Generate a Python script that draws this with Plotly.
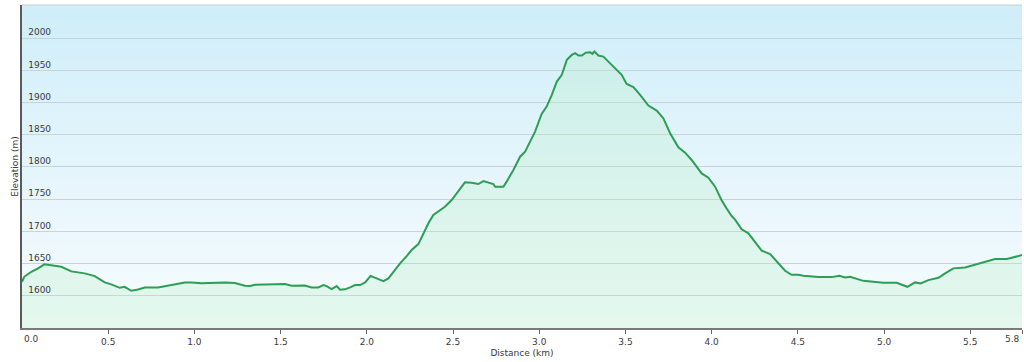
import base64
import struct
import zlib

import plotly.graph_objects as go

# ---- data ----
distance_km = [
    0.0, 0.013, 0.054, 0.093, 0.13, 0.17, 0.228, 0.286, 0.364, 0.422,
    0.48, 0.518, 0.567, 0.595, 0.634, 0.673, 0.712, 0.789, 0.866, 0.945,
    0.984, 1.042, 1.177, 1.235, 1.293, 1.322, 1.352, 1.448, 1.526, 1.564,
    1.622, 1.64, 1.68, 1.719, 1.748, 1.767, 1.796, 1.825, 1.845, 1.873,
    1.903, 1.932, 1.961, 1.99, 2.022, 2.057, 2.096, 2.125, 2.154, 2.193,
    2.231, 2.26, 2.299, 2.328, 2.357, 2.386, 2.423, 2.453, 2.492, 2.53,
    2.569, 2.608, 2.647, 2.676, 2.705, 2.734, 2.744, 2.792, 2.811, 2.85,
    2.889, 2.918, 2.947, 2.976, 3.014, 3.043, 3.073, 3.102, 3.131, 3.16,
    3.189, 3.208, 3.228, 3.247, 3.27, 3.295, 3.308, 3.32, 3.343, 3.372,
    3.401, 3.44, 3.478, 3.507, 3.546, 3.585, 3.633, 3.681, 3.72, 3.759,
    3.807, 3.846, 3.884, 3.942, 3.981, 4.02, 4.057, 4.086, 4.116, 4.135,
    4.174, 4.213, 4.251, 4.29, 4.339, 4.377, 4.426, 4.464, 4.503, 4.532,
    4.619, 4.697, 4.741, 4.774, 4.803, 4.88, 4.996, 5.073, 5.135, 5.18,
    5.212, 5.257, 5.315, 5.354, 5.402, 5.47, 5.528, 5.596, 5.644, 5.712,
    5.8,
]
elevation_m = [
    1621.8, 1629.5, 1637.3, 1642.5, 1648.8, 1647.7, 1645.1, 1637.9, 1634.8, 1630.6,
    1620.8, 1617.7, 1612.4, 1614.0, 1607.8, 1609.9, 1613.0, 1613.0, 1616.6, 1620.8,
    1620.8, 1619.3, 1620.8, 1619.7, 1615.6, 1615.1, 1617.1, 1618.2, 1618.2, 1615.6,
    1615.1, 1616.0, 1613.0, 1613.0, 1616.6, 1615.0, 1610.4, 1615.1, 1609.4, 1610.0,
    1613.0, 1616.6, 1616.6, 1620.8, 1631.0, 1627.0, 1622.8, 1627.0, 1637.3, 1650.3,
    1661.7, 1671.0, 1680.3, 1697.0, 1712.5, 1725.4, 1732.1, 1738.3, 1748.7, 1763.2,
    1776.2, 1775.6, 1773.6, 1778.2, 1776.2, 1773.6, 1769.4, 1769.4, 1777.2, 1795.3,
    1816.0, 1823.8, 1839.3, 1854.9, 1882.4, 1893.7, 1911.9, 1932.6, 1943.0, 1966.3,
    1974.0, 1976.7, 1973.0, 1973.0, 1977.6, 1978.2, 1975.6, 1979.2, 1973.0, 1971.4,
    1963.6, 1953.4, 1943.0, 1929.0, 1923.9, 1911.9, 1895.3, 1887.5, 1875.7, 1852.4,
    1830.6, 1822.2, 1810.9, 1790.0, 1783.4, 1769.4, 1748.7, 1735.9, 1723.8, 1718.7,
    1703.2, 1697.0, 1684.0, 1670.1, 1664.9, 1653.0, 1638.9, 1632.6, 1632.6, 1631.0,
    1629.0, 1629.0, 1631.0, 1628.6, 1629.5, 1623.2, 1620.2, 1620.2, 1614.0, 1620.8,
    1619.3, 1624.4, 1628.0, 1634.8, 1642.6, 1644.1, 1648.8, 1653.9, 1657.0, 1657.0,
    1663.2,
]
x_tick_vals = [0.0, 0.5, 1.0, 1.5, 2.0, 2.5, 3.0, 3.5, 4.0, 4.5, 5.0, 5.5, 5.8]
x_tick_text = ["0.0", "0.5", "1.0", "1.5", "2.0", "2.5", "3.0", "3.5", "4.0",
               "4.5", "5.0", "5.5", "5.8"]
y_tick_vals = [1600, 1650, 1700, 1750, 1800, 1850, 1900, 1950, 2000]
y_tick_text = ["1600", "1650", "1700", "1750", "1800", "1850", "1900", "1950", "2000"]


# ---- background gradient image (style only) ----
def gradient_png(stops, h=128):
    rows = b""
    for i in range(h):
        t = i / (h - 1)
        for j in range(len(stops) - 1):
            p0, c0 = stops[j]
            p1, c1 = stops[j + 1]
            if p0 <= t <= p1:
                f = (t - p0) / (p1 - p0) if p1 > p0 else 0
                c = [round(c0[k] + (c1[k] - c0[k]) * f) for k in range(3)]
                break
        rows += b"\x00" + bytes(c)

    def chunk(tag, data):
        return (struct.pack(">I", len(data)) + tag + data
                + struct.pack(">I", zlib.crc32(tag + data) & 0xffffffff))

    png = b"\x89PNG\r\n\x1a\n"
    png += chunk(b"IHDR", struct.pack(">IIBBBBB", 1, h, 8, 2, 0, 0, 0))
    png += chunk(b"IDAT", zlib.compress(rows))
    png += chunk(b"IEND", b"")
    return "data:image/png;base64," + base64.b64encode(png).decode()


bg_src = gradient_png([(0.0, (207, 238, 249)), (0.5, (229, 245, 252)),
                       (1.0, (247, 252, 254))])

FONT = "DejaVu Sans, Verdana, sans-serif"
TXT = "#3a3a3a"

fig = go.Figure()
fig.add_trace(go.Scatter(
    x=distance_km, y=elevation_m, mode="lines",
    line=dict(color="#2e9d55", width=2),
    fill="tozeroy", fillcolor="rgba(185,238,200,0.30)",
    hoverinfo="skip", showlegend=False,
))

annotations = []
# end tick labels aligned inward like the reference
for idx, anchor in ((0, "left"), (len(x_tick_vals) - 1, "right")):
    annotations.append(dict(
        x=x_tick_vals[idx], y=0, xref="x", yref="paper", text=x_tick_text[idx],
        showarrow=False, xanchor=anchor, yanchor="top", yshift=-4,
        font=dict(family=FONT, size=9, color=TXT),
    ))
mid_text = [""] + x_tick_text[1:-1] + [""]

fig.update_layout(
    width=1024, height=362,
    margin=dict(l=22, r=2, t=5, b=34),
    paper_bgcolor="white", plot_bgcolor="#f3fafd",
    font=dict(family=FONT, size=9, color=TXT),
    images=[dict(source=bg_src, xref="paper", yref="paper", x=0, y=1,
                 sizex=1, sizey=1, sizing="stretch", xanchor="left",
                 yanchor="top", layer="below")],
    annotations=annotations,
    shapes=[dict(type="line", xref="paper", yref="paper", x0=0, x1=1, y0=1, y1=1,
                 line=dict(color="#c9cdd0", width=1))],
    xaxis=dict(
        range=[0, 5.8], tickmode="array", tickvals=x_tick_vals, ticktext=mid_text,
        ticks="outside", ticklen=4, tickcolor="#666", showgrid=False,
        showline=True, linecolor="#7a7a7a", linewidth=2, zeroline=False,
        tickfont=dict(family=FONT, size=9, color=TXT),
        title=dict(text="Distance (km)", font=dict(family=FONT, size=9, color=TXT),
                   standoff=4),
        automargin=False,
    ),
    yaxis=dict(
        range=[1550, 2051.5], tickmode="array", tickvals=y_tick_vals,
        ticktext=y_tick_text, ticks="", ticklabelposition="inside",
        ticklabelstandoff=5, ticklabelshift=-6,
        showgrid=True, gridcolor="#c9d2d6", gridwidth=1,
        showline=True, linecolor="#5a5a5a", linewidth=2, zeroline=False,
        tickfont=dict(family=FONT, size=9, color=TXT),
        title=dict(text="Elevation (m)", font=dict(family=FONT, size=9, color=TXT),
                   standoff=8),
        automargin=False,
    ),
)

fig.write_html("out.html", config={"displayModeBar": False},
               post_script="document.body.style.margin='0';")
